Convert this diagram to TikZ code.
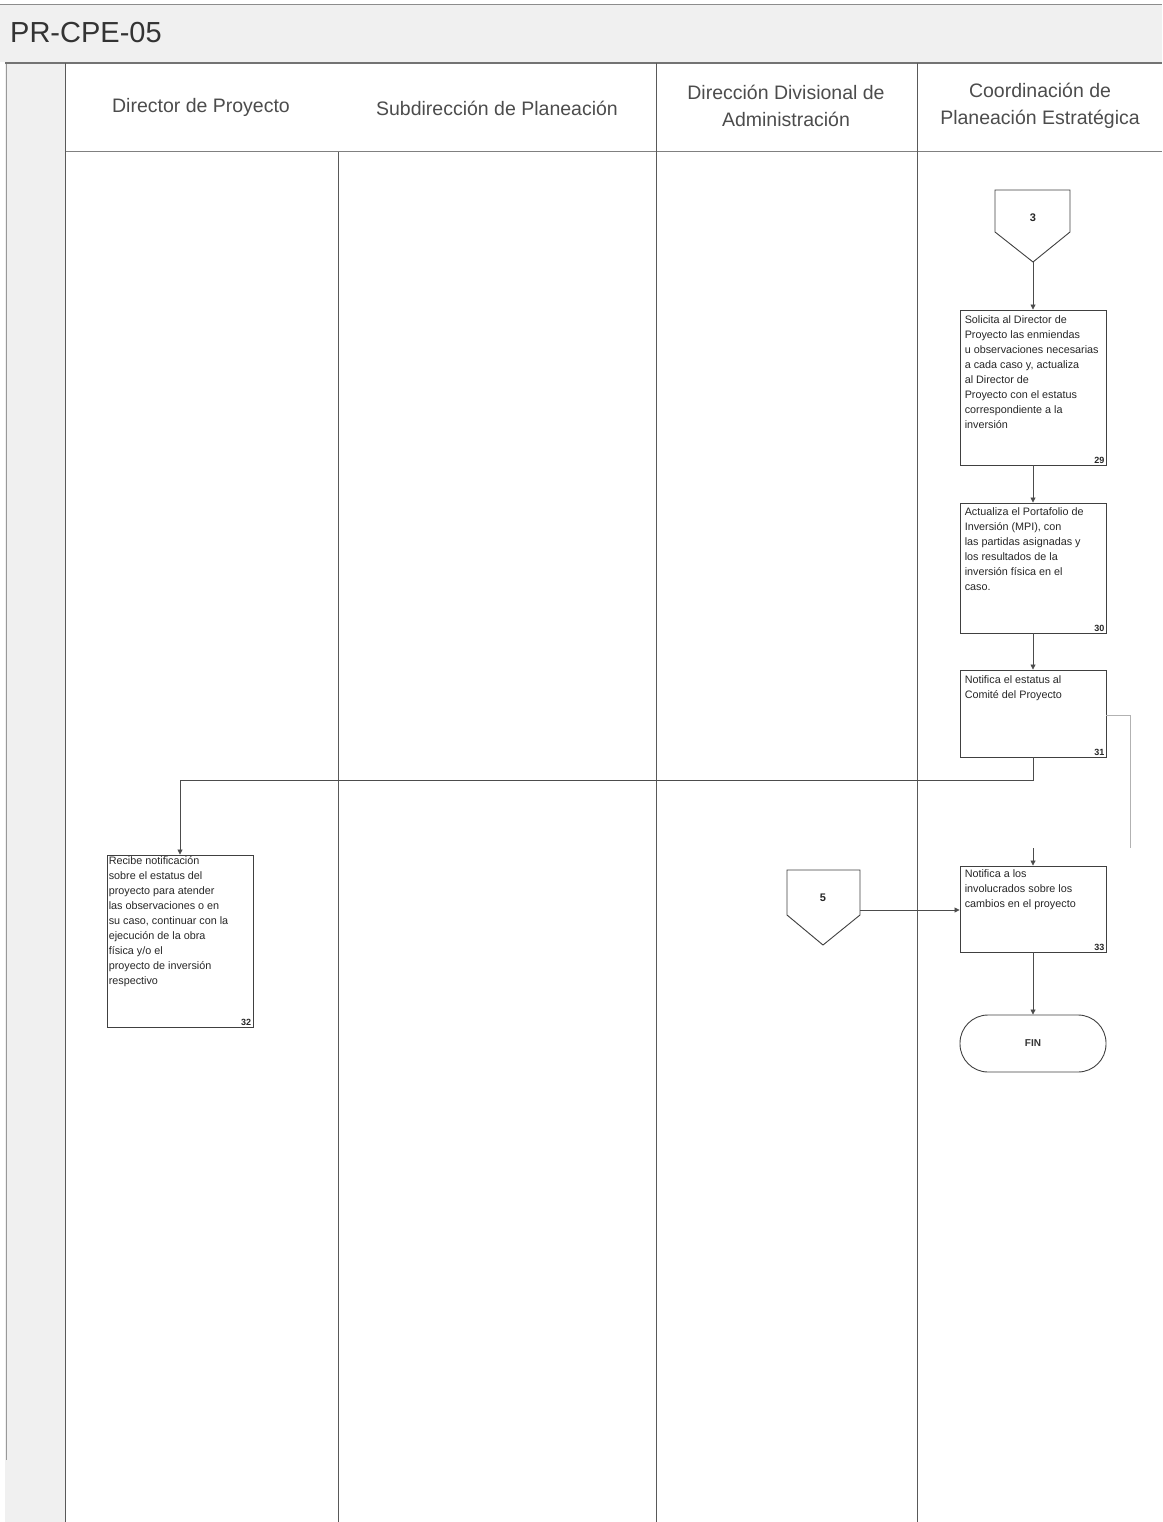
\documentclass[tikz,border=0pt]{standalone}
\usepackage{fontspec}
\setmainfont{Liberation Sans}
\usetikzlibrary{arrows.meta}
\begin{document}
\begin{tikzpicture}[x=1pt,y=-1pt,
  lane/.style={draw=black!65, line width=1pt},
  stepbox/.style={draw=black!75, line width=0.9pt, rectangle, minimum width=146pt, inner sep=0pt},
  boxtext/.style={anchor=north west, align=left, font=\fontsize{10.8}{15}\selectfont, text=black!85, inner sep=0pt},
  numtext/.style={anchor=south east, font=\fontsize{9}{10}\selectfont\bfseries, text=black!85, inner sep=2pt},
  headtext/.style={align=center, font=\fontsize{19.5}{27}\selectfont, text=black!70},
  conn/.style={draw=black!75, line width=0.9pt, fill=white},
  flow/.style={draw=black!70, line width=0.8pt, -{Triangle[length=5pt,width=5pt]}},
  faint/.style={draw=black!30, line width=0.7pt}
]
\useasboundingbox (0,0) rectangle (1162,1522);
% title band
\fill[black!6] (0,5) rectangle (1162,62);
\draw[black!45, line width=1pt] (0,5) -- (1162,5);
\node[anchor=west, font=\fontsize{29}{32}\selectfont, text=black!80, inner sep=0pt] (title) at (10,33) {PR-CPE-05};
% left strip
\fill[black!6] (5,62) rectangle (65,1522);
\draw[black!40, line width=1pt] (6,62) -- (6,1460);
% frame lines
\draw[black!55, line width=1.6pt] (5,63) -- (1162,63);
\draw[black!50, line width=1pt] (65,152) -- (1162,152);
\draw[lane] (65,63) -- (65,1522);
\draw[lane] (338,152) -- (338,1522);
\draw[lane] (656,63) -- (656,1522);
\draw[lane] (917,63) -- (917,1522);
% headers
\node[headtext] (h1) at (201,107) {Director de Proyecto};
\node[headtext] (h2) at (497,108) {Subdirección de Planeación};
\node[headtext] (h3) at (786,106) {Dirección Divisional de\\Administración};
\node[headtext] (h4) at (1040,106) {Coordinación de\\Planeación Estratégica};
% connector 3
\draw[conn] (995,190) -- (1070,190) -- (1070,232) -- (1033,262) -- (995,232) -- cycle;
\coordinate (c3tip) at (1033,262);
\node[font=\fontsize{11}{12}\selectfont\bfseries, text=black!85] (c3) at (1033,218) {3};
% connector 5
\draw[conn] (787,870) -- (860,870) -- (860,915) -- (823,945) -- (787,915) -- cycle;
\coordinate (c5out) at (860,910);
\node[font=\fontsize{11}{12}\selectfont\bfseries, text=black!85] (c5) at (823,898) {5};
% step 29
\node[stepbox, minimum height=155pt] (s29) at (1033,387.5) {};
\node[boxtext] (t29) at ([xshift=5pt,yshift=-6pt]s29.north west) {Solicita al Director de\\Proyecto las enmiendas\\u observaciones necesarias\\a cada caso y, actualiza\\al Director de\\Proyecto con el estatus\\correspondiente a la\\inversión};
\node[numtext] (n29) at (s29.south east) {29};
% step 30
\node[stepbox, minimum height=130pt] (s30) at (1033,568) {};
\node[boxtext] (t30) at ([xshift=5pt,yshift=-5pt]s30.north west) {Actualiza el Portafolio de\\Inversión (MPI), con\\las partidas asignadas y\\los resultados de la\\inversión física en el\\caso.};
\node[numtext] (n30) at (s30.south east) {30};
% step 31
\node[stepbox, minimum height=87pt] (s31) at (1033,713.5) {};
\node[boxtext] (t31) at ([xshift=5pt,yshift=-6pt]s31.north west) {Notifica el estatus al\\Comité del Proyecto};
\node[numtext] (n31) at (s31.south east) {31};
% step 33
\node[stepbox, minimum height=86pt] (s33) at (1033,909) {};
\node[boxtext] (t33) at ([xshift=5pt,yshift=-4pt]s33.north west) {Notifica a los\\involucrados sobre los\\cambios en el proyecto};
\node[numtext] (n33) at (s33.south east) {33};
% step 32 (left)
\node[stepbox, minimum height=172pt] (s32) at (180,941) {};
\node[boxtext] (t32) at ([xshift=2pt,yshift=-2pt]s32.north west) {Recibe notificación\\sobre el estatus del\\proyecto para atender\\las observaciones o en\\su caso, continuar con la\\ejecución de la obra\\física y/o el\\proyecto de inversión\\respectivo};
\node[numtext] (n32) at (s32.south east) {32};
% FIN
\node[draw=black!75, line width=0.9pt, rounded corners=28pt, minimum width=146pt, minimum height=57pt, font=\fontsize{10}{11}\selectfont\bfseries, text=black!80] (fin) at (1033,1043.5) {FIN};
% flows
\draw[flow] (c3tip) -- (s29.north);
\draw[flow] (s29.south) -- (s30.north);
\draw[flow] (s30.south) -- (s31.north);
\draw[flow] (s31.south) -- (1033,780) -- (180,780) -- (s32.north);
\coordinate (r1) at (1130,715);
\coordinate (r2) at (1130,848);
\draw[faint] (s31.east |- r1) -- (r1) -- (r2);
\draw[flow] (1033,848) -- (s33.north);
\draw[flow] (c5out) -- (s33.west |- c5out);
\draw[flow] (s33.south) -- (fin.north);
\end{tikzpicture}
\end{document}
